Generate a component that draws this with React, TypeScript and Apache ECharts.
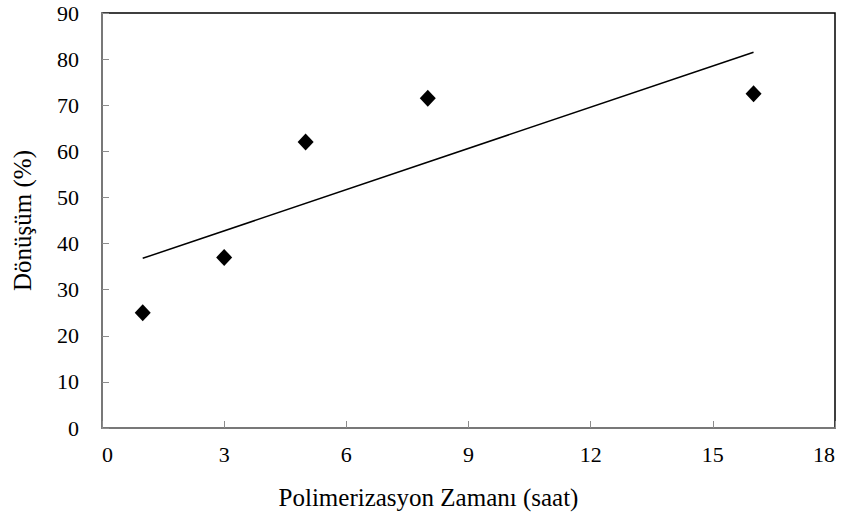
import React, { useEffect, useRef } from "react";
import * as echarts from "echarts";

const timeHours = [1, 3, 5, 8, 16];
const conversionPct = [25, 37, 62, 71.5, 72.5];
const trendX = [1, 16];
const trendY = [36.8, 81.5];
const xTicks = [0, 3, 6, 9, 12, 15, 18];
const yTicks = [0, 10, 20, 30, 40, 50, 60, 70, 80, 90];

const FONT = "Liberation Serif";

export default function App() {
  const ref = useRef<HTMLDivElement>(null);
  useEffect(() => {
    if (!ref.current) return;
    const chart = echarts.init(ref.current, null, { renderer: "svg" });
    chart.setOption({
      animation: false,
      backgroundColor: "#ffffff",
      textStyle: { fontFamily: FONT },
      grid: {
        left: 102,
        right: 7,
        top: 13,
        bottom: 93,
        show: true,
        borderColor: "#000000",
        borderWidth: 1.5,
      },
      xAxis: {
        type: "value",
        min: xTicks[0],
        max: xTicks[xTicks.length - 1],
        interval: 3,
        name: "Polimerizasyon Zamanı (saat)",
        nameLocation: "middle",
        nameGap: 57,
        nameTextStyle: { fontFamily: FONT, fontSize: 25, color: "#000", padding: [0, 80, 0, 0] },
        axisLine: { show: true, lineStyle: { color: "#8c8c8c", width: 1.5 } },
        axisTick: { show: true, inside: true, length: 7, lineStyle: { color: "#8c8c8c" } },
        axisLabel: {
          fontFamily: FONT,
          fontSize: 22,
          color: "#000",
          margin: 15,
          alignMinLabel: "left",
          alignMaxLabel: "right",
        },
        splitLine: { show: false },
      },
      yAxis: {
        type: "value",
        min: yTicks[0],
        max: yTicks[yTicks.length - 1],
        interval: 10,
        name: "Dönüşüm (%)",
        nameLocation: "middle",
        nameGap: 67,
        nameRotate: 90,
        nameTextStyle: { fontFamily: FONT, fontSize: 25, color: "#000" },
        axisLine: { show: true, lineStyle: { color: "#8c8c8c", width: 1.5 } },
        axisTick: { show: true, inside: true, length: 7, lineStyle: { color: "#8c8c8c" } },
        axisLabel: { fontFamily: FONT, fontSize: 22, color: "#000", margin: 23 },
        splitLine: { show: false },
      },
      series: [
        {
          type: "line",
          data: trendX.map((x, i) => [x, trendY[i]]),
          showSymbol: false,
          symbol: "none",
          lineStyle: { color: "#000", width: 1.5 },
          silent: true,
          z: 2,
        },
        {
          type: "scatter",
          data: timeHours.map((x, i) => [x, conversionPct[i]]),
          symbol: "diamond",
          symbolSize: [16, 17],
          itemStyle: { color: "#000", opacity: 1 },
          z: 3,
        },
      ],
    });
    return () => chart.dispose();
  }, []);
  return <div ref={ref} style={{ width: 842, height: 521, position: "absolute", left: 0, top: 0 }} />;
}
